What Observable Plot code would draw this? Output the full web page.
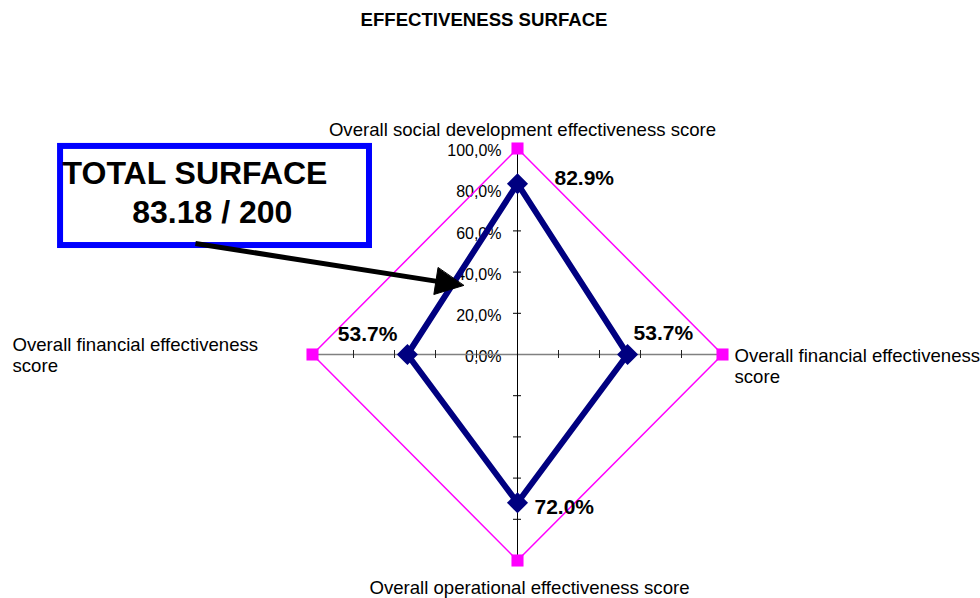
<!DOCTYPE html>
<html><head><meta charset="utf-8">
<script src="https://cdn.jsdelivr.net/npm/d3@7"></script>
<script src="https://cdn.jsdelivr.net/npm/@observablehq/plot@0.6"></script>
<style>
html,body{margin:0;padding:0;background:#fff;}
#chart{width:980px;height:598px;}
</style>
</head><body><div id="chart"></div>
<script>
// ---- data ----
const categories = [
  "Overall social development effectiveness score",
  "Overall financial effectiveness score",
  "Overall operational effectiveness score",
  "Overall financial effectiveness score"
];
const scores = [0.829, 0.537, 0.720, 0.537];
const maxima = [1, 1, 1, 1];
const tickValues = [0, 0.2, 0.4, 0.6, 0.8, 1.0];
const title = "EFFECTIVENESS SURFACE";
const calloutLines = ["TOTAL SURFACE", "83.18 / 200"];
// callout annotation, in chart units (radius 1 = 100%)
const calloutBox = [{x1: -2.229, x2: -0.722, y1: 0.529, y2: 1.010}];
const calloutArrow = [{x1: -1.571, y1: 0.539, x2: -0.263, y2: 0.335}];

// ---- layout ----
const W = 980, H = 598, ML = 312, MR = 258, MT = 148, MB = 38;
const sx = d3.scaleLinear([-1, 1], [ML, W - MR]);
const sy = d3.scaleLinear([-1, 1], [H - MB, MT]);

const pt = (v, i) => ({x: v * Math.sin(i * Math.PI / 2), y: v * Math.cos(i * Math.PI / 2)});
const scorePts = scores.map((v, i) => ({...pt(v, i), v, i}));
const maxPts = maxima.map((v, i) => ({...pt(v, i), v, i, label: categories[i]}));

const fmtTick = v => (v * 100).toFixed(1).replace(".", ",") + "%";
const fmtVal = d3.format(".1%");

const tx = 4 / (sx(1) - sx(0));
const ty = 4 / (sy(0) - sy(1));
const minorTicks = tickValues.filter(v => v > 0 && v < 1).flatMap(v => [v, -v]);

// arrow head geometry (computed in pixels, returned in chart units)
const a = calloutArrow[0];
const p0 = [sx(a.x1), sy(a.y1)], p1 = [sx(a.x2), sy(a.y2)];
const len = Math.hypot(p1[0] - p0[0], p1[1] - p0[1]);
const u = [(p1[0] - p0[0]) / len, (p1[1] - p0[1]) / len];
const nrm = [-u[1], u[0]];
const HL = 28, HW = 13.5;
const base = [p1[0] - HL * u[0], p1[1] - HL * u[1]];
const headPx = [p1, [base[0] + HW * nrm[0], base[1] + HW * nrm[1]], [base[0] - HW * nrm[0], base[1] - HW * nrm[1]]];
const headPts = headPx.map(([px, py]) => ({x: sx.invert(px), y: sy.invert(py)}));
const shaft = [{x1: a.x1, y1: a.y1, x2: sx.invert(base[0] + 3 * u[0]), y2: sy.invert(base[1] + 3 * u[1])}];

const valuePlacement = [
  {dx: 37, dy: -5, anchor: "start"},
  {dx: 6, dy: -21.5, anchor: "start"},
  {dx: 17, dy: 4.5, anchor: "start"},
  {dx: -10, dy: -20, anchor: "end"}
];
const labelPlacement = [
  {dx: 5, dy: -19.5, anchor: "middle"},
  {dx: 12, dy: 11.5, anchor: "start"},
  {dx: 12, dy: 27, anchor: "middle"},
  {dx: -300, dy: 0, anchor: "start"}
];
const wrap = (s, i) => i % 2 === 1 ? s.replace(/ (\S+)$/, "\n$1") : s;

const b = calloutBox[0];

const chart = Plot.plot({
  width: W, height: H,
  marginLeft: ML, marginRight: MR, marginTop: MT, marginBottom: MB,
  x: {domain: [-1, 1], axis: null},
  y: {domain: [-1, 1], axis: null},
  style: {fontFamily: "Arial, 'Liberation Sans', sans-serif", background: "#fff", color: "#000", overflow: "visible"},
  marks: [
    Plot.text([title], {frameAnchor: "top", text: d => d, dx: -33.5, dy: -128.5, lineAnchor: "middle",
      fontSize: 18.6, fontWeight: "bold", fill: "#000"}),
    // value axis tick labels
    Plot.text(tickValues, {x: 0, y: d => d, text: fmtTick, textAnchor: "end", dx: -16, dy: 2.5,
      fontSize: 16, fill: "#000"}),
    // axes
    Plot.ruleY([0], {x1: -1, x2: 1, stroke: "#808080", strokeWidth: 1.5}),
    Plot.ruleX([0], {y1: -1, y2: 1, stroke: "#000", strokeWidth: 1}),
    Plot.ruleY(minorTicks, {x1: -tx, x2: tx, stroke: "#000", strokeWidth: 1}),
    Plot.ruleX(minorTicks, {y1: -ty, y2: ty, stroke: "#222", strokeWidth: 1}),
    // maximum series
    Plot.line(maxPts, {x: "x", y: "y", curve: "linear-closed", stroke: "#FF00FF", strokeWidth: 1.5}),
    Plot.dot(maxPts, {x: "x", y: "y", symbol: "square", r: 6.8, fill: "#FF00FF", stroke: "none"}),
    // score series
    Plot.line(scorePts, {x: "x", y: "y", curve: "linear-closed", stroke: "#000080", strokeWidth: 6, strokeLinejoin: "miter"}),
    Plot.dot(scorePts, {x: "x", y: "y", symbol: "diamond2", r: 9.5, fill: "#000080", stroke: "none"}),
    // value labels
    ...valuePlacement.map((o, i) => Plot.text([scorePts[i]], {x: "x", y: "y", text: d => fmtVal(d.v),
      dx: o.dx, dy: o.dy, textAnchor: o.anchor, lineAnchor: "middle", fontSize: 21, fontWeight: "bold", fill: "#000"})),
    // category labels
    ...labelPlacement.map((o, i) => Plot.text([maxPts[i]], {x: "x", y: "y", text: d => wrap(d.label, d.i),
      dx: o.dx, dy: o.dy, textAnchor: o.anchor, lineAnchor: "middle", lineHeight: 1.13, fontSize: 18.6, fill: "#000"})),
    // callout
    Plot.rect(calloutBox, {x1: "x1", x2: "x2", y1: "y1", y2: "y2", fill: "#fff", stroke: "#0000FF", strokeWidth: 6}),
    Plot.text([calloutLines[0]], {x: b.x1, y: b.y2, text: d => d, dx: 2, dy: 27.3, textAnchor: "start",
      lineAnchor: "middle", fontSize: 32, fontWeight: "bold", fill: "#000"}),
    Plot.text([calloutLines[1]], {x: b.x1, y: b.y2, text: d => d, dx: 71.7, dy: 66.8, textAnchor: "start",
      lineAnchor: "middle", fontSize: 32, fontWeight: "bold", fill: "#000"}),
    Plot.link(shaft, {x1: "x1", y1: "y1", x2: "x2", y2: "y2", stroke: "#000", strokeWidth: 5}),
    Plot.line(headPts, {x: "x", y: "y", curve: "linear-closed", fill: "#000", stroke: "#000", strokeWidth: 1})
  ]
});
document.getElementById("chart").appendChild(chart);
</script>
</body></html>
